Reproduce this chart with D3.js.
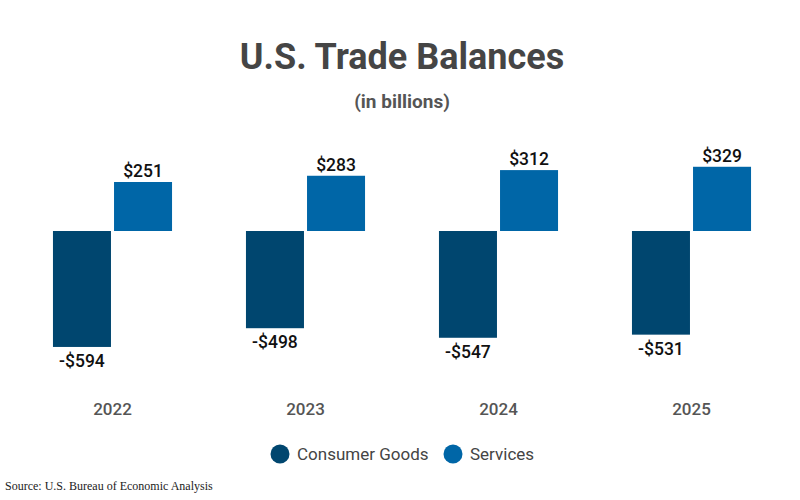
<!DOCTYPE html>
<html>
<head>
<meta charset="utf-8">
<script src="https://cdn.jsdelivr.net/npm/d3@7"></script>
<style>
  body { margin: 0; background: #fff; }
  svg { display: block; font-family: Roboto, sans-serif; }
</style>
</head>
<body>
<div id="chart"></div>
<script>
// data
let years = ['2022', '2023', '2024', '2025'];
let seriesNames = ['Consumer Goods', 'Services'];
let consumerGoods = [-594, -498, -547, -531];
let services = [251, 283, 312, 329];
let colors = ['#00466f', '#0066a7'];

let width = 800, height = 500;

let svg = d3.select('#chart').append('svg')
  .attr('width', width)
  .attr('height', height);

svg.append('text')
  .attr('x', 402).attr('y', 69)
  .attr('text-anchor', 'middle')
  .attr('font-size', 36).attr('font-weight', 700)
  .attr('fill', '#454545')
  .text('U.S. Trade Balances');

svg.append('text')
  .attr('x', 402).attr('y', 108)
  .attr('text-anchor', 'middle')
  .attr('font-size', 19).attr('font-weight', 700)
  .attr('fill', '#555')
  .text('(in billions)');

let rows = years.map(function(y, i) {
  return {year: y, values: [consumerGoods[i], services[i]]};
});

let x0 = d3.scaleBand().domain(years).range([16, 788])
  .paddingInner(0.383).paddingOuter(0.1915);
let x1 = d3.scaleBand().domain(seriesNames).range([0, x0.bandwidth()])
  .paddingInner(0.05).paddingOuter(0);
// zero line at 231, ~0.195 px per billion
let y = d3.scaleLinear().domain([-700, 400]).range([231 + 700 * 0.1952, 231 - 400 * 0.1952]);

let groups = svg.selectAll('g.year').data(rows).enter().append('g')
  .attr('class', 'year')
  .attr('transform', d => 'translate(' + x0(d.year) + ',0)');

groups.selectAll('rect').data(d => d.values.map((v, i) => ({name: seriesNames[i], value: v, i: i})))
  .enter().append('rect')
  .attr('x', d => x1(d.name))
  .attr('width', x1.bandwidth())
  .attr('y', d => y(Math.max(0, d.value)))
  .attr('height', d => Math.abs(y(d.value) - y(0)))
  .attr('fill', d => colors[d.i]);

let fmt = v => (v < 0 ? '-$' : '$') + Math.abs(v);

groups.selectAll('text.val').data(d => d.values.map((v, i) => ({name: seriesNames[i], value: v})))
  .enter().append('text')
  .attr('class', 'val')
  .attr('x', d => x1(d.name) + x1.bandwidth() / 2)
  .attr('y', d => d.value >= 0 ? y(d.value) - 5 : y(d.value) + 20)
  .attr('text-anchor', 'middle')
  .attr('font-size', 17.5).attr('font-weight', 500)
  .attr('fill', '#111')
  .text(d => fmt(d.value));

svg.selectAll('text.yr').data(years).enter().append('text')
  .attr('class', 'yr')
  .attr('x', d => x0(d) + x0.bandwidth() / 2)
  .attr('y', 415)
  .attr('text-anchor', 'middle')
  .attr('font-size', 17).attr('font-weight', 500)
  .attr('fill', '#555')
  .text(d => d);

// legend
let legendX = [280, 453];
let legend = svg.selectAll('g.leg').data(seriesNames).enter().append('g')
  .attr('class', 'leg')
  .attr('transform', (d, i) => 'translate(' + legendX[i] + ',454)');
legend.append('circle').attr('r', 9.5).attr('fill', (d, i) => colors[i]);
legend.append('text')
  .attr('x', 17).attr('y', 6)
  .attr('font-size', 17)
  .attr('fill', '#444')
  .text(d => d);

svg.append('text')
  .attr('x', 5).attr('y', 490)
  .attr('font-family', '"Liberation Serif", "Times New Roman", serif')
  .attr('font-size', 12)
  .attr('fill', '#222')
  .text('Source: U.S. Bureau of Economic Analysis');
</script>
</body>
</html>
